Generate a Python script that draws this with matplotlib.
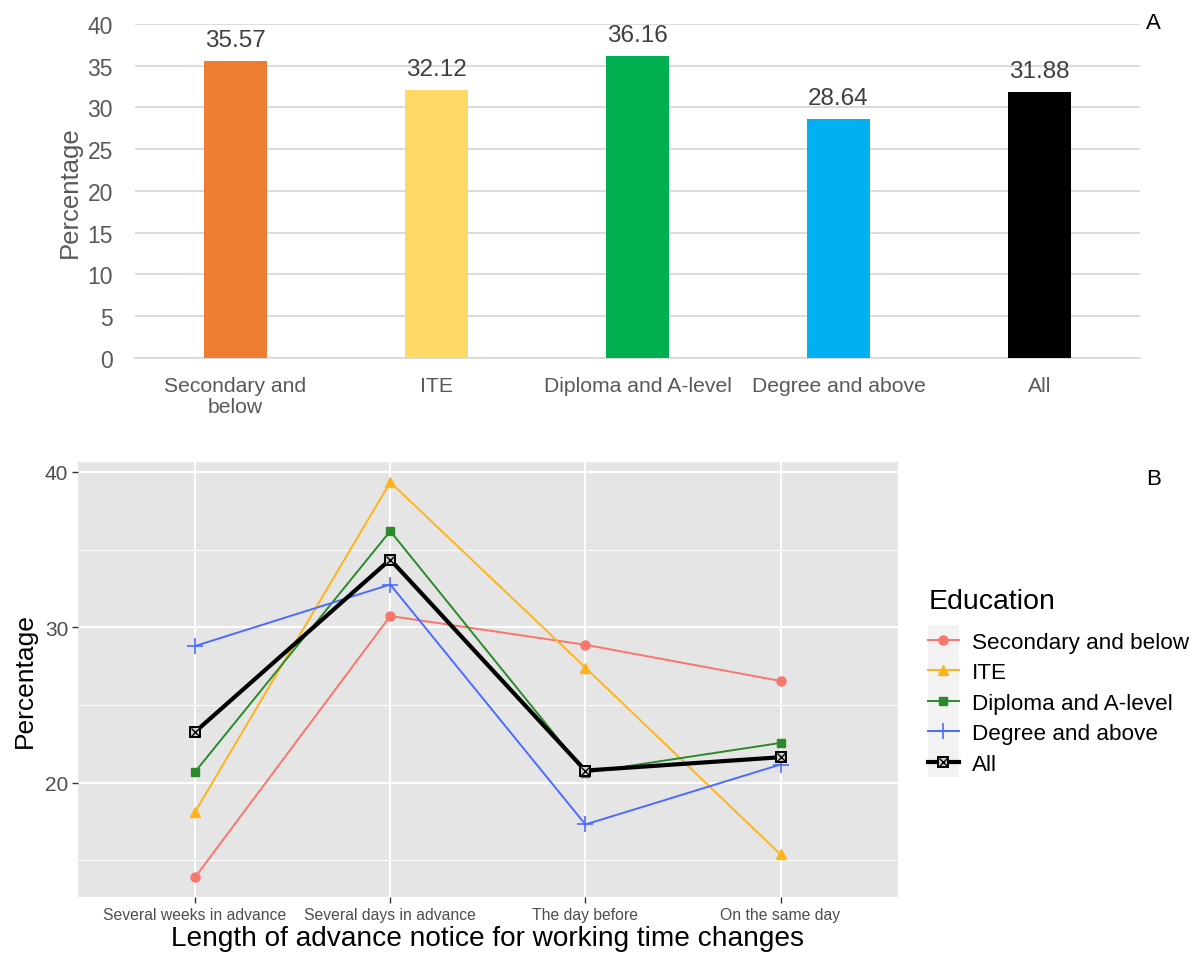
import matplotlib
matplotlib.use("Agg")
import matplotlib.pyplot as plt
from matplotlib.legend_handler import HandlerTuple
from matplotlib.patches import Rectangle
import numpy as np

plt.rcParams['font.family'] = ['Liberation Sans', 'DejaVu Sans']

# panel A: share by education
groups = ['Secondary and\nbelow', 'ITE', 'Diploma and A-level', 'Degree and above', 'All']
shares = [35.57, 32.12, 36.16, 28.64, 31.88]
bar_colors = ['#ED7D31', '#FFD966', '#00B050', '#00B0F0', '#000000']

# panel B: percentage by advance notice
notice = ['Several weeks in advance', 'Several days in advance', 'The day before', 'On the same day']
series_names = ['Secondary and below', 'ITE', 'Diploma and A-level', 'Degree and above', 'All']
secondary = [13.9, 30.72, 28.87, 26.54]
ite = [18.11, 39.34, 27.4, 15.37]
diploma = [20.69, 36.19, 20.64, 22.55]
degree = [28.79, 32.75, 17.3, 21.16]
overall = [23.26, 34.36, 20.77, 21.63]

fig = plt.figure(figsize=(12, 9.54), dpi=100)

# ---- A ----
ax1 = fig.add_axes([0.1125, 0.6237, 0.8375, 0.3501])
x = np.arange(len(groups))
ax1.bar(x, shares, width=0.31, color=bar_colors, zorder=3)
for xi, v in zip(x, shares):
    ax1.text(xi, v + 1.2, f'{v:.2f}', ha='center', va='bottom', fontsize=17.5, color='#404040')
ax1.set_ylim(0, 40)
ax1.set_xlim(-0.5, 4.5)
ax1.set_yticks(range(0, 41, 5))
ax1.yaxis.grid(True, color='#D9D9D9', linewidth=1.3, zorder=0)
ax1.set_axisbelow(True)
for s in ['top', 'right', 'left']:
    ax1.spines[s].set_visible(False)
ax1.spines['bottom'].set_color('#D9D9D9')
ax1.spines['bottom'].set_linewidth(1.3)
ax1.tick_params(axis='y', length=0, labelsize=16.5, labelcolor='#595959', pad=16)
ax1.tick_params(axis='x', length=0, labelsize=15.2, labelcolor='#595959', pad=13)
ax1.set_xticks(x)
ax1.set_xticklabels(groups, linespacing=1.1, va='top')
ax1.set_ylabel('Percentage', fontsize=18.5, color='#595959', labelpad=4)
fig.text(0.955, 0.975, 'A', fontsize=16, ha='left', va='center')

# ---- B ----
ax2 = fig.add_axes([0.065, 0.0587, 0.683, 0.456])
ax2.set_facecolor('#E5E5E5')
xb = np.arange(len(notice))
ax2.set_xlim(-0.6, 3.6)
ax2.set_ylim(12.63, 40.64)
ax2.set_yticks([20, 30, 40])
ax2.set_yticks([15, 25, 35], minor=True)
ax2.grid(True, which='major', color='white', linewidth=1.4, zorder=0)
ax2.grid(True, which='minor', axis='y', color='white', linewidth=0.7, zorder=0)
ax2.set_xticks(xb)
ax2.set_xticklabels(notice, fontsize=11.3)
for s in ax2.spines.values():
    s.set_visible(False)
ax2.tick_params(axis='both', which='major', length=4, width=1, color='#333333',
                labelcolor='#4D4D4D', pad=3)
ax2.tick_params(axis='y', which='major', labelsize=15)
ax2.tick_params(axis='y', which='minor', length=0)
ax2.set_axisbelow(True)

h1, = ax2.plot(xb, secondary, color='#F8766D', lw=1.4, marker='o', ms=6.5, zorder=3)
h2, = ax2.plot(xb, ite, color='#FFB31A', lw=1.4, marker='^', ms=7, zorder=3)
h3, = ax2.plot(xb, diploma, color='#2A8A2A', lw=1.4, marker='s', ms=6, zorder=3)
h4, = ax2.plot(xb, degree, color='#4C6CFF', lw=1.4, marker='+', ms=11, mew=1.2, zorder=3)
h5, = ax2.plot(xb, overall, color='black', lw=3, marker='s', ms=7, mfc='#D0D0D0',
               mec='black', mew=1.4, zorder=4)
h5x, = ax2.plot(xb, overall, ls='none', marker='x', ms=5.5, mec='black', mew=1, zorder=5)

ax2.set_ylabel('Percentage', fontsize=19, labelpad=6)
ax2.set_xlabel('Length of advance notice for working time changes', fontsize=20.2, labelpad=2)

# grey strip behind the legend keys
fig.patches.append(Rectangle((928 / 1200, 1 - 778 / 954), 31 / 1200, 152 / 954,
                             transform=fig.transFigure, facecolor='#F2F2F2',
                             edgecolor='none', zorder=0))

leg = fig.legend([h1, h2, h3, h4, (h5, h5x)], series_names,
                 handler_map={tuple: HandlerTuple(ndivide=1)},
                 loc='upper left', bbox_to_anchor=(0.7585, 0.401),
                 title='Education', title_fontsize=20.5, fontsize=16.2,
                 frameon=False, handlelength=1.35, handletextpad=0.6,
                 labelspacing=0.42, alignment='left', borderpad=0.3)
leg._legend_box.sep = 12.5
fig.text(0.955, 0.497, 'B', fontsize=16, ha='left', va='center')

fig.savefig('out.png', dpi=100)
